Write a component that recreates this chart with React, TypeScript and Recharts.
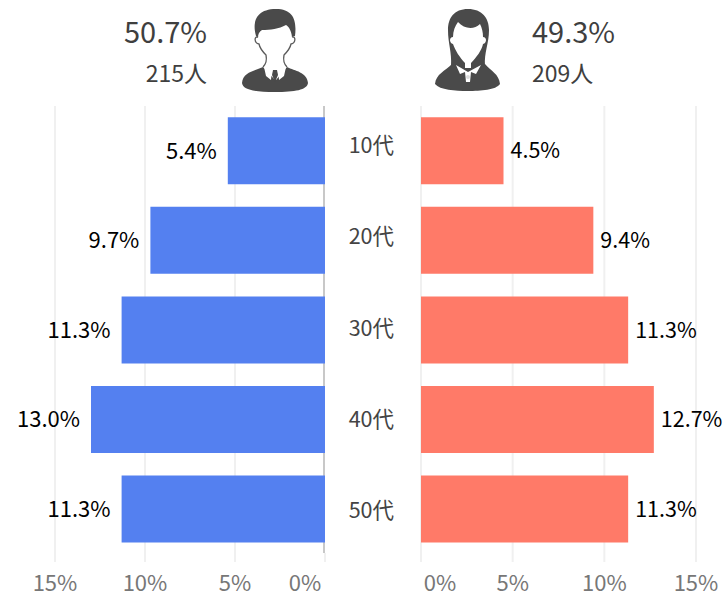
import { BarChart, Bar, XAxis, YAxis, CartesianGrid, LabelList } from "recharts";

const ages = ["10代", "20代", "30代", "40代", "50代"];
const maleValues = [5.4, 9.7, 11.3, 13.0, 11.3];
const femaleValues = [4.5, 9.4, 11.3, 12.7, 11.3];
const ticks = [0, 5, 10, 15];
const maleGridValues = [5, 10, 15];

const maleData = ages.map((age, i) => ({ age, value: maleValues[i] }));
const femaleData = ages.map((age, i) => ({ age, value: femaleValues[i] }));

const FONT = '"Noto Sans CJK JP", "Noto Sans", sans-serif';
const CHART_HEIGHT = 593;
const MARGIN_TOP = 106;
const AXIS_HEIGHT = 31;

// the 0% tick is pushed inward so that it stays clear of the category column
function PercentTick({ x, y, payload, shift }: any) {
  const dx = payload.value === 0 ? shift : 0;
  return (
    <text x={x + dx} y={y + 21} textAnchor="middle" fontSize={22} fill="#777" fontFamily={FONT}>
      {payload.value}%
    </text>
  );
}

// category labels sit slightly off the bar centres in the original
function AgeTick({ x, y, payload, index }: any) {
  return (
    <text x={x + 6} y={y + 2.5 + index * 1.5} textAnchor="end" fontSize={21.5} fill="#444" fontFamily={FONT}>
      {payload.value}
    </text>
  );
}

const formatPercent = (v: any) => `${Number(v).toFixed(1)}%`;
const maleLabelStyle = { fontSize: 22, fill: "#000", fontFamily: FONT };
const femaleLabelStyle = { fontSize: 21.5, fill: "#000", fontFamily: FONT };

function ManIcon() {
  return (
    <svg width={726} height={100} style={{ position: "absolute", left: 0, top: 0 }}>
      <path d="M263 67C255 71 243 72 242 83C243 90 255 92 275 92C295 92 307 90 308 83C307 72 295 71 287 67L276 80L275 80Z" fill="#4a4a4a" />
      <path d="M264 67L272 69L271 80L266 76ZM286 67L278 69L279 80L284 76Z" fill="#fff" />
      <path d="M273 70H277L278 75L275 82L272 75Z" fill="#4a4a4a" />
      <path d="M256 36C252 22 256 9 276 9C293 9 297 20 295 36L292 37C291 30 289 27 286 25C279 29 270 30 262 30C259 32 258 34 258 38Z" fill="#4a4a4a" />
      <path d="M258 37C254 36 254 43 259 44C260 49 263 52 266 55C267 60 266 64 263 67M292 37C296 36 296 43 291 44C290 49 287 52 284 55C283 60 284 64 287 67" fill="none" stroke="#5a5a5a" strokeWidth={1.3} />
    </svg>
  );
}

function WomanIcon() {
  return (
    <svg width={726} height={100} style={{ position: "absolute", left: 0, top: 0 }}>
      <path d="M468 9C454 9 448 18 448 30C448 44 452 52 451 66L485 66C484 52 489 44 489 30C489 18 482 9 468 9Z" fill="#4a4a4a" />
      <path d="M452 64C445 71 436 74 435 84C440 90 455 91 468 91C481 91 496 90 500 84C499 74 491 71 485 64Z" fill="#4a4a4a" />
      <path d="M458 22C464 29 474 30 480 24C482 28 483 32 483 37C487 37 487 43 483 44C482 50 476 58 471 63L471 68L465 68L465 63C460 58 455 50 453 44C449 43 449 37 453 37C453 31 455 26 458 22Z" fill="#fff" />
      <path d="M456 65L468 72L481 65L476 74L471 72L470 82H466L465 72L460 74Z" fill="#fff" />
      <circle cx={468} cy={77} r={2} fill="#ddd" />
    </svg>
  );
}

const bigText = { position: "absolute" as const, fontFamily: FONT, fontSize: 29, lineHeight: "32px", color: "#3f3f3f", top: 14 };
const smallText = { position: "absolute" as const, fontFamily: FONT, fontSize: 23, lineHeight: "26px", color: "#3f3f3f", top: 59 };

export default function App() {
  return (
    <div style={{ position: "absolute", left: 0, top: 0, width: 726, height: 593, overflow: "hidden", background: "#fff" }}>
      <div style={{ ...bigText, right: 726 - 207 }}>50.7%</div>
      <div style={{ ...smallText, right: 726 - 207 }}>215人</div>
      <div style={{ ...bigText, left: 532 }}>49.3%</div>
      <div style={{ ...smallText, left: 532 }}>209人</div>
      <ManIcon />
      <WomanIcon />

      {/* 0% line of the male side, kept behind the chart so the bars cover it */}
      <div style={{ position: "absolute", left: 323, top: 106, width: 2, height: 447, background: "#c8c8c8" }} />
      <div style={{ position: "absolute", left: 324, top: 553, width: 2, height: 9, background: "#f0f0f0" }} />

      <div style={{ position: "absolute", left: 0, top: 0 }}>
        <BarChart
          width={363}
          height={CHART_HEIGHT}
          data={maleData}
          layout="vertical"
          margin={{ top: MARGIN_TOP, right: 38, bottom: 0, left: 55 }}
          barCategoryGap="12.5%"
        >
          <CartesianGrid horizontal={false} verticalValues={maleGridValues} stroke="#f0f0f0" strokeWidth={2} />
          <XAxis
            type="number"
            reversed
            domain={[0, 15]}
            ticks={ticks}
            height={AXIS_HEIGHT}
            axisLine={false}
            tickLine={false}
            interval={0}
            tick={<PercentTick shift={-20} />}
          />
          <YAxis type="category" dataKey="age" hide padding={{ top: 0, bottom: 8 }} />
          <Bar dataKey="value" fill="#5480f0" isAnimationActive={false}>
            <LabelList dataKey="value" position="right" offset={11} formatter={formatPercent} style={maleLabelStyle} />
          </Bar>
        </BarChart>
      </div>

      <div style={{ position: "absolute", left: 330, top: 0 }}>
        <BarChart
          width={396}
          height={CHART_HEIGHT}
          data={femaleData}
          layout="vertical"
          margin={{ top: MARGIN_TOP, right: 30, bottom: 0, left: 0 }}
          barCategoryGap="12.5%"
        >
          <CartesianGrid horizontal={false} stroke="#f0f0f0" strokeWidth={2} />
          <XAxis
            type="number"
            domain={[0, 15]}
            ticks={ticks}
            height={AXIS_HEIGHT}
            axisLine={false}
            tickLine={false}
            interval={0}
            tick={<PercentTick shift={19} />}
          />
          <YAxis
            type="category"
            dataKey="age"
            width={91}
            axisLine={false}
            tickLine={false}
            tickMargin={27}
            padding={{ top: 0, bottom: 8 }}
            tick={<AgeTick />}
          />
          <Bar dataKey="value" fill="#ff7a68" isAnimationActive={false}>
            <LabelList dataKey="value" position="right" offset={7} formatter={formatPercent} style={femaleLabelStyle} />
          </Bar>
        </BarChart>
      </div>
    </div>
  );
}
